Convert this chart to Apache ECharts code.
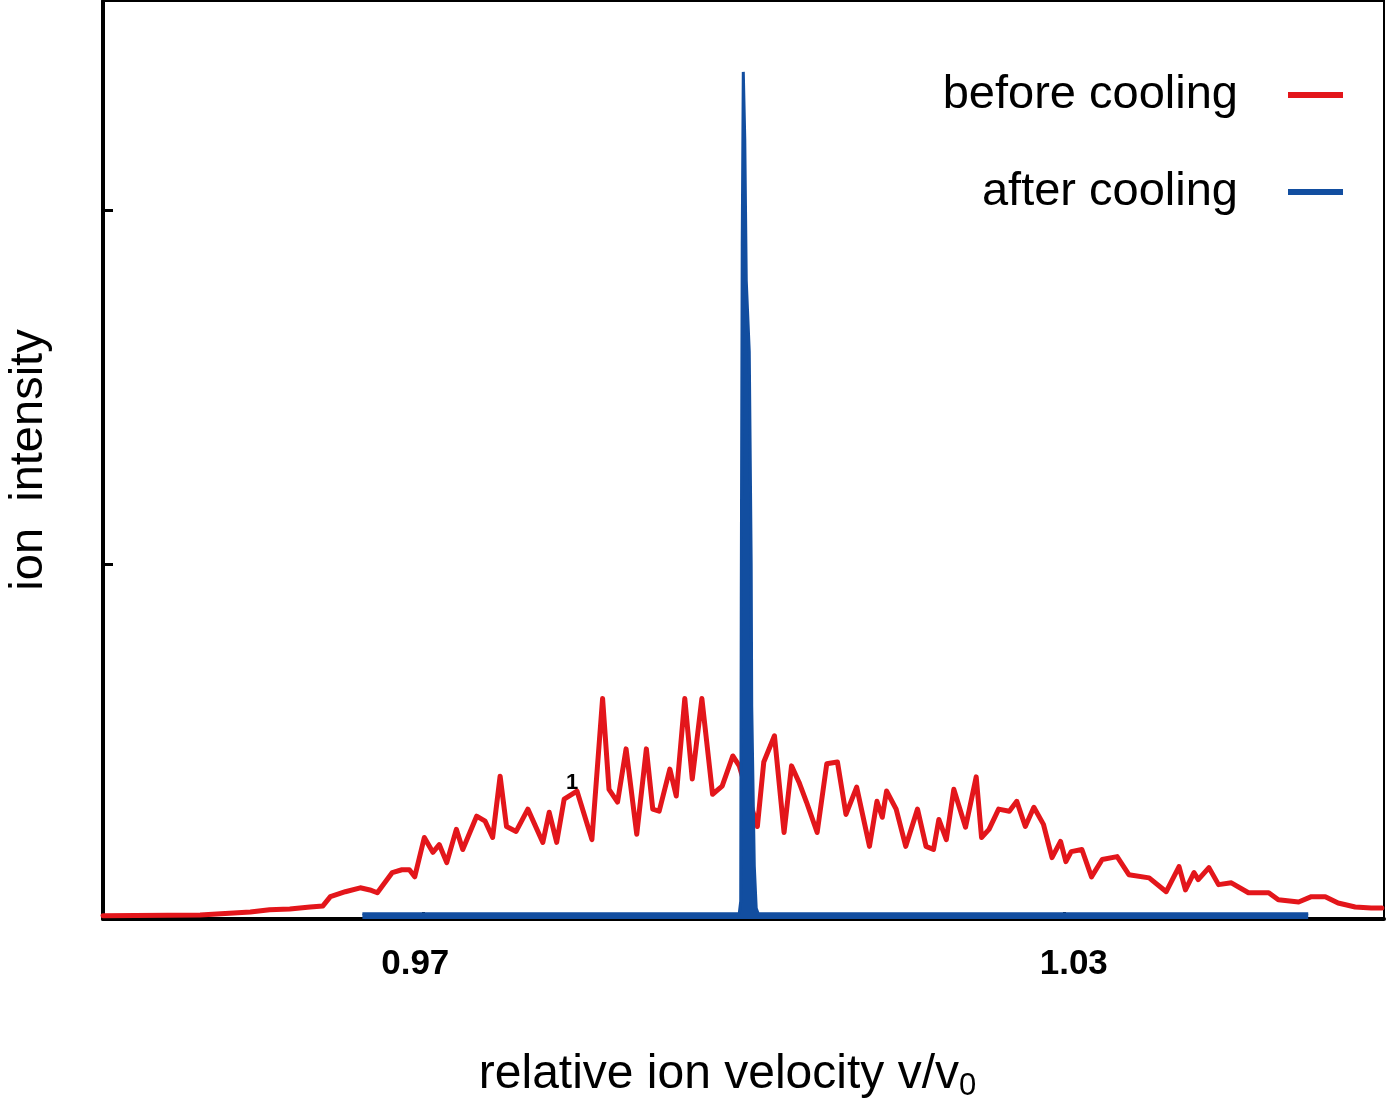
<!DOCTYPE html>
<html>
<head>
<meta charset="utf-8">
<script src="https://cdn.jsdelivr.net/npm/echarts@6/dist/echarts.min.js"></script>
<style>
html,body{margin:0;padding:0;background:#fff;}
#chart{width:1386px;height:1102px;}
</style>
</head>
<body>
<div id="chart"></div>
<script>
// ---- data ----
const seriesNames = ['before cooling', 'after cooling'];
const xTickValues = [0.97, 1.00, 1.03];
const xLabelValues = [0.97, 1.03];
const yTickValues = [1, 2];

// before cooling (relative velocity, intensity)
const beforeX = [0.9400,0.9491,0.9538,0.9556,0.9575,0.9594,0.9606,0.9613,0.9627,0.9641,0.9650,0.9657,0.9671,0.9680,0.9687,0.9692,0.9701,0.9709,0.9715,0.9722,0.9731,0.9737,0.9750,0.9758,0.9765,0.9772,0.9778,0.9787,0.9798,0.9812,0.9818,0.9825,0.9832,0.9844,0.9858,0.9868,0.9874,0.9882,0.9890,0.9900,0.9909,0.9915,0.9921,0.9931,0.9937,0.9945,0.9952,0.9961,0.9971,0.9980,0.9990,0.9996,1.0013,1.0019,1.0029,1.0038,1.0045,1.0052,1.0059,1.0069,1.0078,1.0088,1.0096,1.0106,1.0118,1.0125,1.0130,1.0134,1.0143,1.0152,1.0163,1.0171,1.0178,1.0183,1.0190,1.0197,1.0208,1.0218,1.0223,1.0230,1.0239,1.0249,1.0256,1.0264,1.0272,1.0281,1.0289,1.0297,1.0302,1.0307,1.0317,1.0326,1.0336,1.0350,1.0361,1.0380,1.0396,1.0408,1.0414,1.0422,1.0426,1.0436,1.0445,1.0457,1.0473,1.0492,1.0501,1.0520,1.0532,1.0545,1.0557,1.0573,1.0588,1.0598];
const beforeY = [0.009,0.011,0.020,0.026,0.028,0.034,0.037,0.063,0.077,0.088,0.082,0.074,0.131,0.139,0.139,0.119,0.230,0.188,0.210,0.159,0.253,0.196,0.290,0.276,0.230,0.403,0.261,0.247,0.310,0.216,0.301,0.216,0.338,0.361,0.224,0.622,0.366,0.330,0.480,0.239,0.480,0.310,0.304,0.423,0.347,0.622,0.395,0.622,0.352,0.375,0.460,0.432,0.261,0.443,0.517,0.244,0.432,0.386,0.330,0.244,0.438,0.443,0.295,0.372,0.205,0.332,0.287,0.361,0.310,0.205,0.310,0.205,0.196,0.281,0.224,0.366,0.259,0.401,0.230,0.253,0.310,0.304,0.332,0.261,0.315,0.267,0.173,0.219,0.162,0.190,0.196,0.119,0.168,0.176,0.125,0.116,0.077,0.148,0.082,0.131,0.111,0.145,0.097,0.102,0.074,0.074,0.054,0.048,0.063,0.063,0.045,0.034,0.031,0.031];

// after cooling
const afterX = [0.9643,0.9996,0.99974,0.99979,0.99988,0.99998,1.00012,1.00026,1.00054,1.00072,1.00077,1.00101,1.00119,1.00138,1.0529];
const afterY = [0.015,0.015,0.05,0.90,1.90,2.39,2.20,1.80,1.60,1.00,0.60,0.15,0.03,0.015,0.015];

const redColor = '#e3161b';
const blueColor = '#124ea0';
const FONT = "'Liberation Sans', Arial, sans-serif";

const chart = echarts.init(document.getElementById('chart'), null, {renderer: 'canvas'});

const pairs = (xs, ys) => xs.map((x, i) => [x, ys[i]]);

const legendCommon = {
  orient: 'vertical',
  align: 'right',
  right: 43,
  padding: 0,
  itemWidth: 55,
  itemHeight: 6,
  icon: 'rect',
  selectedMode: false,
  textStyle: {fontFamily: FONT, fontSize: 47, color: '#000', lineHeight: 50, padding: [0, 45, 0, 0]}
};

chart.setOption({
  animation: false,
  backgroundColor: '#fff',
  grid: {left: 103, right: 2, top: 1, bottom: 183, outerBoundsMode: 'none', containLabel: false,
         show: true, borderColor: '#000', borderWidth: 2, backgroundColor: 'transparent'},
  legend: [
    Object.assign({}, legendCommon, {top: 70, data: [seriesNames[0]]}),
    Object.assign({}, legendCommon, {top: 167, data: [seriesNames[1]]})
  ],
  xAxis: {
    type: 'value',
    min: 0.94,
    max: 1.06,
    name: 'relative ion velocity v/v{sub|0}',
    nameLocation: 'middle',
    nameGap: 129,
    nameTextStyle: {
      fontFamily: FONT, fontSize: 48, color: '#000', padding: [0, 32, 0, 0],
      rich: {sub: {fontFamily: FONT, fontSize: 31, color: '#000', verticalAlign: 'bottom', padding: [23, 0, 0, 0]}}
    },
    axisLine: {show: true, onZero: false, lineStyle: {color: '#000', width: 4}},
    axisTick: {show: true, inside: true, length: 7, lineStyle: {color: '#000', width: 3}, customValues: xTickValues},
    axisLabel: {
      show: true, margin: 28, customValues: xLabelValues,
      fontFamily: FONT, fontSize: 35, fontWeight: 'bold', color: '#000',
      formatter: v => (v < 1 ? '{l|' : '{r|') + v.toFixed(2) + '}',
      rich: {
        l: {fontFamily: FONT, fontSize: 35, fontWeight: 'bold', color: '#000', padding: [0, 16, 0, 0]},
        r: {fontFamily: FONT, fontSize: 35, fontWeight: 'bold', color: '#000', padding: [0, 0, 0, 20]}
      }
    },
    splitLine: {show: false}
  },
  yAxis: {
    type: 'value',
    min: 0,
    max: 2.59,
    name: 'ion  intensity',
    nameLocation: 'middle',
    nameRotate: 90,
    nameGap: 50,
    nameTextStyle: {fontFamily: FONT, fontSize: 47, color: '#000'},
    axisLine: {show: true, onZero: false, lineStyle: {color: '#000', width: 4}},
    axisTick: {show: true, inside: true, length: 10, lineStyle: {color: '#000', width: 3}, customValues: yTickValues},
    axisLabel: {show: false},
    splitLine: {show: false}
  },
  graphic: [
    {type: 'text', left: 566, top: 772, z: 100, style: {text: '1', font: "bold 22px 'Liberation Sans', Arial, sans-serif", fill: '#000'}}
  ],
  series: [
    {
      name: seriesNames[0], type: 'line', data: pairs(beforeX, beforeY),
      showSymbol: false, symbol: 'none', color: redColor,
      lineStyle: {color: redColor, width: 5, join: 'round', cap: 'round'}, z: 2
    },
    {
      name: seriesNames[1], type: 'line', data: pairs(afterX, afterY),
      showSymbol: false, symbol: 'none', color: blueColor,
      lineStyle: {color: blueColor, width: 3},
      areaStyle: {color: blueColor, opacity: 1, origin: 'start'}, z: 3
    }
  ]
});
</script>
</body>
</html>
